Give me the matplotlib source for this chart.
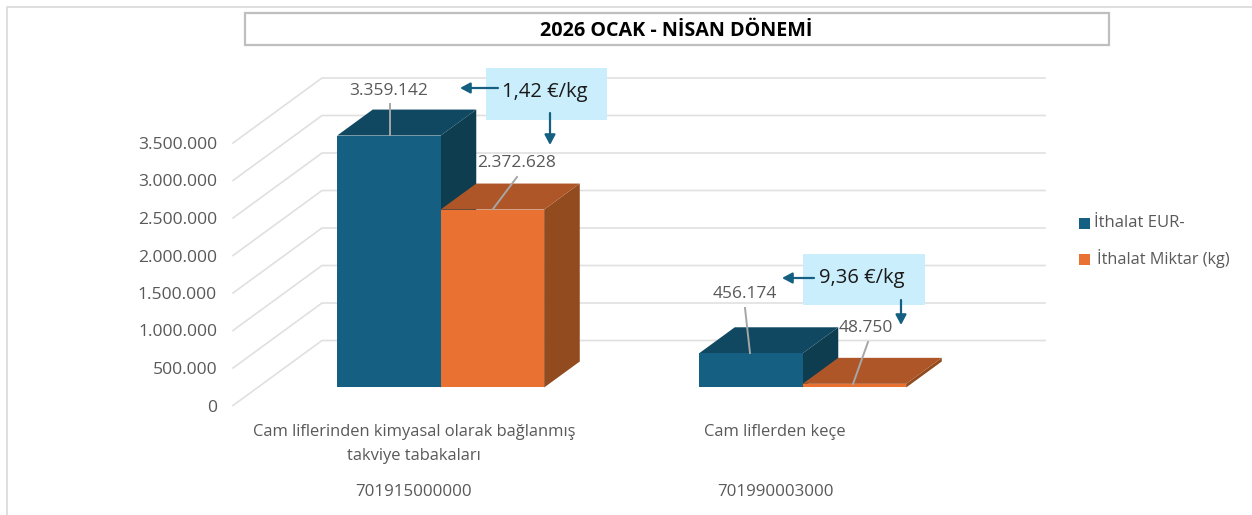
import matplotlib
matplotlib.use("Agg")
import matplotlib.pyplot as plt
from matplotlib.patches import Polygon, Rectangle

# veriler
categories = [["Cam liflerinden kimyasal olarak bağlanmış", "takviye tabakaları"], ["Cam liflerden keçe"]]
codes = ["701915000000", "701990003000"]
import_eur = [3359142, 456174]
import_kg = [2372628, 48750]
value_labels = [["3.359.142", "2.372.628"], ["456.174", "48.750"]]
unit_prices = ["1,42 €/kg", "9,36 €/kg"]
tick_values = [0, 500000, 1000000, 1500000, 2000000, 2500000, 3000000, 3500000]
tick_labels = ["0", "500.000", "1.000.000", "1.500.000", "2.000.000", "2.500.000", "3.000.000", "3.500.000"]
series_names = ["İthalat EUR-", "İthalat Miktar (kg)"]
title = "2026 OCAK - NİSAN DÖNEMİ"

plt.rcParams['font.family'] = ['Open Sans', 'DejaVu Sans']

# sahte 3B eksen, piksel olarak
X0 = 233
Y0 = 405.5
SCALE = 262.5 / 3500000
DEPTH_X = 89
DEPTH_Y = 65
WALL_RIGHT = 1045
BAR_W = 103.5
BAR_D0 = 0.277
BAR_D1 = 0.677
GROUP_X = [312.5, 674.5]

BLUE = ("#156082", "#104862", "#0E3D50")
ORANGE = ("#E97132", "#AE5627", "#924A1F")
TEXT = "#595959"
GRID = "#E0E0E0"
ARROW = "#156082"


def project(x, value, depth):
    return x + depth * DEPTH_X, Y0 - value * SCALE - depth * DEPTH_Y


def draw_bar(ax, x, value, colors, z):
    p = lambda a, v, d: project(x + a, v, d)
    front = [p(0, 0, BAR_D0), p(BAR_W, 0, BAR_D0), p(BAR_W, value, BAR_D0), p(0, value, BAR_D0)]
    top = [p(0, value, BAR_D0), p(BAR_W, value, BAR_D0), p(BAR_W, value, BAR_D1), p(0, value, BAR_D1)]
    side = [p(BAR_W, 0, BAR_D0), p(BAR_W, 0, BAR_D1), p(BAR_W, value, BAR_D1), p(BAR_W, value, BAR_D0)]
    ax.add_patch(Polygon(side, closed=True, fc=colors[2], ec="none", zorder=z))
    ax.add_patch(Polygon(top, closed=True, fc=colors[1], ec="none", zorder=z))
    ax.add_patch(Polygon(front, closed=True, fc=colors[0], ec="none", zorder=z + 0.1))


def arrow(ax, start, end):
    ax.annotate("", xy=end, xytext=start, zorder=8,
                arrowprops=dict(arrowstyle="-|>,head_width=0.32,head_length=0.6", color=ARROW, lw=1.6,
                                shrinkA=0, shrinkB=0))


fig = plt.figure(figsize=(12.52, 5.15), dpi=100)
ax = fig.add_axes([0, 0, 1, 1])
ax.set_xlim(0, 1252)
ax.set_ylim(515, 0)
ax.axis("off")

# dis cerceve
ax.plot([6.5, 6.5, 1252], [515, 6.5, 6.5], color="#D9D9D9", lw=1.2, zorder=1)

# baslik kutusu
ax.add_patch(Rectangle((245, 12.5), 864, 32, fc="white", ec="#BFBFBF", lw=1.6, zorder=2))
ax.text(676, 31, title, ha="center", va="center", fontsize=14.2, fontweight="bold", color="black", zorder=3)

# izgara ve eksen
for v, lab in zip(tick_values, tick_labels):
    xa, ya = project(X0, v, 0)
    xb, yb = project(X0, v, 1)
    ax.plot([xa, xb, WALL_RIGHT], [ya, yb, yb], color=GRID, lw=1.2, zorder=2)
    ax.text(217, ya + 2, lab, ha="right", va="center", fontsize=12.6, color=TEXT, zorder=3)

# cubuklar
for i, x in enumerate(GROUP_X):
    draw_bar(ax, x, import_eur[i], BLUE, 4 + i)
    draw_bar(ax, x + BAR_W, import_kg[i], ORANGE, 4.5 + i)

# deger etiketleri ve baglanti cizgileri
label_pos = [[(389, 91), (517, 163)], [(745, 294), (866, 328)]]
leader_ends = [[(390, 104, 390, 135), (517, 177, 493, 209)], [(745, 308, 750, 353), (868, 342, 853, 384)]]
for i in range(2):
    for j in range(2):
        px, py = label_pos[i][j]
        ax.text(px, py, value_labels[i][j], ha="center", va="center", fontsize=12.5, color=TEXT, zorder=7)
        a, b, c, d = leader_ends[i][j]
        ax.plot([a, c], [b, d], color="#A6A6A6", lw=1.4, zorder=7)

# birim fiyat kutulari
boxes = [(486, 68, 121, 52), (803, 254, 122, 51)]
arrows = [[((498, 88), (460, 88)), ((550, 113), (550, 145))],
          [((814, 278), (782, 278)), ((901, 300), (901, 325))]]
for i, (bx, by, bw, bh) in enumerate(boxes):
    ax.add_patch(Rectangle((bx, by), bw, bh, fc="#CAEEFB", ec="none", zorder=6))
    ax.text(bx + bw / 2 - 2, by + 24, unit_prices[i], ha="center", va="center", fontsize=14.5, color="#1A1A1A", zorder=8)
    for s, e in arrows[i]:
        arrow(ax, s, e)

# kategori etiketleri
for i, lines in enumerate(categories):
    cx = [414, 775][i]
    for k, line in enumerate(lines):
        ax.text(cx, 432 + k * 24, line, ha="center", va="center", fontsize=11.9, color=TEXT, zorder=3)
    ax.text(cx, 492, codes[i], ha="center", va="center", fontsize=12.2, color=TEXT, zorder=3)

# lejant
ax.add_patch(Rectangle((1079, 217.5), 10.5, 11, fc=BLUE[0], ec="none"))
ax.text(1094, 223, series_names[0], ha="left", va="center", fontsize=12, color=TEXT)
ax.add_patch(Rectangle((1079, 253.5), 10.5, 11, fc=ORANGE[0], ec="none"))
ax.text(1097, 259, series_names[1], ha="left", va="center", fontsize=11.7, color=TEXT)

fig.savefig("out.png", dpi=100)
